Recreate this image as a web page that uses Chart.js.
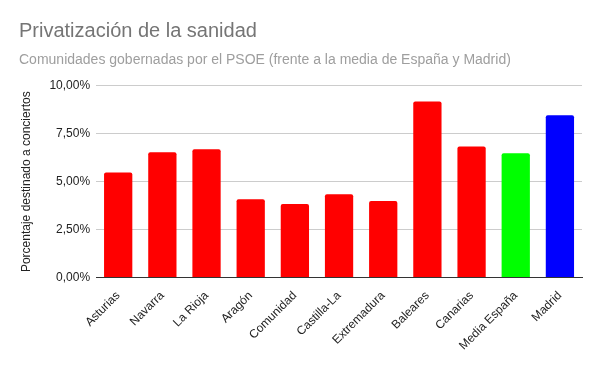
<!DOCTYPE html>
<html>
<head>
<meta charset="utf-8">
<script src="https://cdn.jsdelivr.net/npm/chart.js@4"></script>
<style>
  html, body { margin: 0; padding: 0; background: #fff; }
  #wrap { width: 600px; height: 371px; }
</style>
</head>
<body>
<div id="wrap"><canvas id="chart" width="600" height="371"></canvas></div>
<script>
// data
const regiones = ['Asturias', 'Navarra', 'La Rioja', 'Aragón', 'Comunidad', 'Castilla-La',
    'Extremadura', 'Baleares', 'Canarias', 'Media España', 'Madrid'];
const porcentajes = [5.48, 6.53, 6.69, 4.09, 3.83, 4.35, 3.99, 9.18, 6.84, 6.48, 8.46];
const colores = ['#ff0000', '#ff0000', '#ff0000', '#ff0000', '#ff0000', '#ff0000',
    '#ff0000', '#ff0000', '#ff0000', '#00ff00', '#0000ff'];
const yTicks = [0, 2.5, 5, 7.5, 10];

const fontFamily = '"Liberation Sans", Arial, sans-serif';

const ctx = document.getElementById('chart').getContext('2d');
new Chart(ctx, {
    type: 'bar',
    data: {
        labels: regiones,
        datasets: [{
            data: porcentajes,
            backgroundColor: colores,
            borderRadius: { topLeft: 2, topRight: 2 },
            borderSkipped: 'bottom',
            categoryPercentage: 1,
            barPercentage: 0.64
        }]
    },
    options: {
        responsive: false,
        animation: false,
        layout: { padding: { left: 19, right: 18, top: 19, bottom: 15 } },
        plugins: {
            legend: { display: false },
            tooltip: { enabled: false },
            title: {
                display: true,
                text: 'Privatización de la sanidad',
                align: 'start',
                color: '#757575',
                font: { family: fontFamily, size: 20, weight: 'normal' },
                padding: { top: 0, bottom: 9 }
            },
            subtitle: {
                display: true,
                text: 'Comunidades gobernadas por el PSOE (frente a la media de España y Madrid)',
                align: 'start',
                color: '#9e9e9e',
                font: { family: fontFamily, size: 14, weight: 'normal' },
                padding: { top: 0, bottom: 17 }
            }
        },
        scales: {
            x: {
                grid: { display: false },
                border: { color: '#333333' },
                ticks: {
                    color: '#222222',
                    font: { family: fontFamily, size: 12 },
                    maxRotation: 45,
                    minRotation: 45,
                    autoSkip: false
                }
            },
            y: {
                min: 0,
                max: 10,
                afterBuildTicks: axis => { axis.ticks = yTicks.map(v => ({ value: v })); },
                grid: {
                    color: ctx => ctx.tick && ctx.tick.value === 0 ? '#333333' : '#cccccc',
                    drawTicks: false
                },
                border: { display: false },
                ticks: {
                    color: '#222222',
                    padding: 6,
                    font: { family: fontFamily, size: 12 },
                    callback: v => v.toFixed(2).replace('.', ',') + '%'
                },
                title: {
                    display: true,
                    text: 'Porcentaje destinado a conciertos',
                    color: '#222222',
                    font: { family: fontFamily, size: 12 },
                    padding: { top: 0, bottom: 10 }
                }
            }
        }
    }
});
</script>
</body>
</html>
